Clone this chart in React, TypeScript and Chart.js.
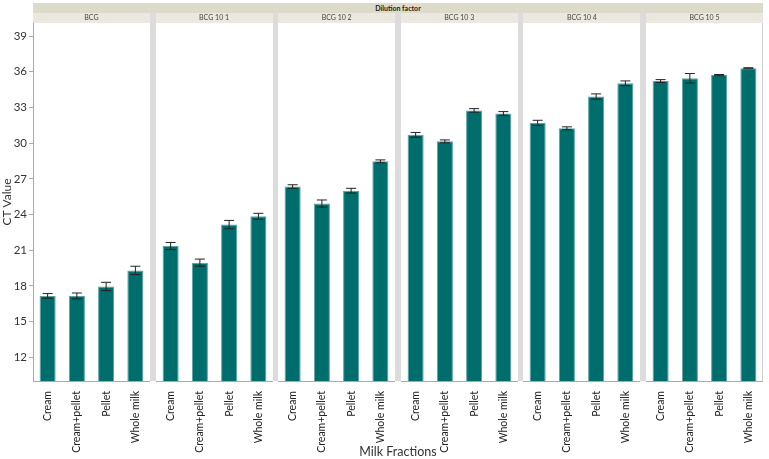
import { useEffect, useRef } from 'react';
import { Chart, registerables } from 'chart.js';
Chart.register(...registerables);

const panels = ['BCG', 'BCG 10 1', 'BCG 10 2', 'BCG 10 3', 'BCG 10 4', 'BCG 10 5'];
const fractions = ['Cream', 'Cream+pellet', 'Pellet', 'Whole milk'];
const ctMeans = [
  17.15, 17.15, 17.95, 19.3,
  21.35, 19.95, 23.15, 23.85,
  26.35, 24.92, 26.0, 28.47,
  30.7, 30.15, 32.75, 32.5,
  31.7, 31.25, 33.92, 35.03,
  35.22, 35.45, 35.72, 36.3,
];
const ctErrors = [
  0.2, 0.25, 0.35, 0.35,
  0.3, 0.3, 0.35, 0.25,
  0.15, 0.3, 0.2, 0.12,
  0.2, 0.12, 0.15, 0.15,
  0.22, 0.12, 0.22, 0.2,
  0.12, 0.4, 0.05, 0.04,
];
const yTicks = [12, 15, 18, 21, 24, 27, 30, 33, 36, 39];
const headerTitle = 'Dilution factor';
const xTitle = 'Milk Fractions';
const yTitle = 'CT Value';

const FONT = 'Lato, "Open Sans", "DejaVu Sans", sans-serif';

// layout of the facet grid (pixels)
const W = 769;
const H = 459;
const PLOT_LEFT = 33;
const PLOT_RIGHT = 763;
const PLOT_TOP = 23;
const PLOT_BOTTOM = 381;
const SEP = 5.7;
const PANEL_W = (PLOT_RIGHT - PLOT_LEFT - SEP * (panels.length - 1)) / panels.length;
const panelLeft = (k: number) => PLOT_LEFT + k * (PANEL_W + SEP);
const panelRight = (k: number) => panelLeft(k) + PANEL_W;

const errorPlugin = {
  id: 'errbars',
  afterDatasetsDraw(chart: any) {
    const { ctx, scales } = chart;
    const x = scales.x;
    const y = scales.y;
    const means: number[] = chart.data.datasets[0].data;
    const errs: number[] = chart.data.datasets[0].errors;
    ctx.save();
    ctx.strokeStyle = '#222';
    ctx.lineWidth = 1;
    means.forEach((m, i) => {
      const e = errs[i];
      const cx = x.getPixelForValue(i);
      const yt = y.getPixelForValue(m + e);
      const yb = y.getPixelForValue(m - e);
      ctx.beginPath();
      ctx.moveTo(cx, yt);
      ctx.lineTo(cx, yb);
      ctx.moveTo(cx - 5, yt);
      ctx.lineTo(cx + 5, yt);
      ctx.moveTo(cx - 5, yb);
      ctx.lineTo(cx + 5, yb);
      ctx.stroke();
    });
    ctx.restore();
  },
};

const rightBorderPlugin = {
  id: 'rightBorder',
  beforeDatasetsDraw(chart: any) {
    if (!chart.options.plugins.rightBorder?.show) return;
    const { ctx, chartArea: a } = chart;
    ctx.save();
    ctx.strokeStyle = '#cfcfcf';
    ctx.lineWidth = 1;
    ctx.beginPath();
    ctx.moveTo(a.right - 0.5, a.top);
    ctx.lineTo(a.right - 0.5, a.bottom);
    ctx.stroke();
    ctx.restore();
  },
};

function Panel({ k }: { k: number }) {
  const ref = useRef<HTMLCanvasElement>(null);
  const first = k === 0;
  const last = k === panels.length - 1;
  const left = first ? 0 : Math.round(panelLeft(k));
  const right = Math.round(panelRight(k));
  const width = right - left;
  useEffect(() => {
    Chart.defaults.font.family = FONT;
    const chart = new Chart(ref.current!, {
      type: 'bar',
      data: {
        labels: fractions,
        datasets: [
          {
            data: ctMeans.slice(k * fractions.length, (k + 1) * fractions.length),
            errors: ctErrors.slice(k * fractions.length, (k + 1) * fractions.length),
            backgroundColor: '#006d6d',
            borderColor: '#5aa3a3',
            borderWidth: 1,
            barPercentage: 0.55,
            categoryPercentage: 1,
          } as any,
        ],
      },
      options: {
        animation: false,
        responsive: false,
        maintainAspectRatio: false,
        layout: { padding: { top: PLOT_TOP, right: 0, left: 0, bottom: 0 } },
        plugins: {
          legend: { display: false },
          tooltip: { enabled: false },
          rightBorder: { show: last },
        } as any,
        scales: {
          x: {
            grid: { display: false },
            border: { display: true, color: '#aaaaaa' },
            ticks: {
              color: '#222',
              font: { size: 10.5 },
              maxRotation: 90,
              minRotation: 90,
              autoSkip: false,
              padding: 2,
            },
            afterFit: (s: any) => {
              s.height = H - PLOT_BOTTOM;
            },
          },
          y: {
            display: first,
            min: 10,
            max: 40.1,
            grid: { drawOnChartArea: false, drawTicks: true, tickLength: 4, color: '#aaaaaa' },
            border: { display: true, color: '#aaaaaa' },
            ticks: { color: '#333', font: { size: 11.5 }, padding: 2 },
            afterBuildTicks: (s: any) => {
              s.ticks = yTicks.map((v) => ({ value: v }));
            },
            title: {
              display: true,
              text: yTitle,
              color: '#333',
              font: { size: 12 },
              padding: { top: 0, bottom: 0 },
            },
            afterFit: (s: any) => {
              s.width = first ? PLOT_LEFT : 0;
            },
          },
        },
      },
      plugins: [errorPlugin, rightBorderPlugin],
    });
    return () => chart.destroy();
  }, [k, first, last]);
  return (
    <canvas
      ref={ref}
      width={width}
      height={H}
      style={{ position: 'absolute', left, top: 0, width, height: H, display: 'block' }}
    />
  );
}

export default function App() {
  useEffect(() => {
    document.body.style.margin = '0';
  }, []);
  const textBase = { fontFamily: FONT, textAlign: 'center' as const, position: 'absolute' as const };
  return (
    <div style={{ position: 'relative', width: W, height: H, background: '#fff', overflow: 'hidden' }}>
      {panels.map((_, k) => (
        <Panel key={k} k={k} />
      ))}
      {panels.slice(1).map((_, i) => (
        <div
          key={'sep' + i}
          style={{
            position: 'absolute',
            left: panelRight(i),
            width: SEP,
            top: 13.3,
            height: PLOT_BOTTOM - 13.3,
            background: '#dcdcdc',
          }}
        />
      ))}
      <div
        style={{
          ...textBase,
          left: PLOT_LEFT,
          width: PLOT_RIGHT - PLOT_LEFT,
          top: 3.3,
          height: 10,
          lineHeight: '10px',
          background: '#dcdac8',
          fontSize: 7,
          fontWeight: 'bold',
          color: '#222',
        }}
      >
        {headerTitle}
      </div>
      {panels.map((p, k) => (
        <div
          key={'hdr' + k}
          style={{
            ...textBase,
            left: panelLeft(k),
            width: PANEL_W,
            top: 13.3,
            height: 9.4,
            lineHeight: '9.4px',
            background: '#ebe9df',
            fontSize: 7,
            color: '#444',
          }}
        >
          {p}
        </div>
      ))}
      <div
        style={{
          ...textBase,
          left: PLOT_LEFT,
          width: PLOT_RIGHT - PLOT_LEFT,
          top: 444,
          fontSize: 12.5,
          lineHeight: '15px',
          color: '#333',
        }}
      >
        {xTitle}
      </div>
    </div>
  );
}
